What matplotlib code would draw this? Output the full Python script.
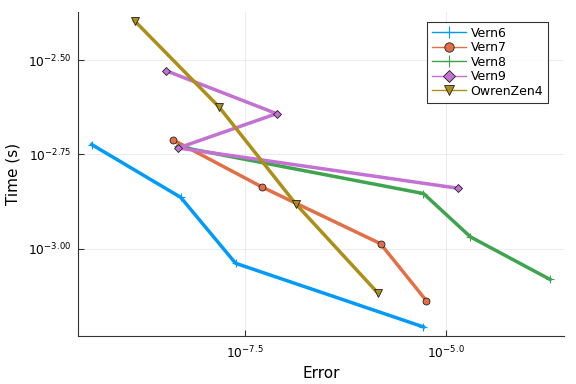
import matplotlib
matplotlib.use('Agg')
import matplotlib.pyplot as plt
from matplotlib.lines import Line2D
import numpy as np

# log10 values
vern6_err = [-9.396, -8.293, -7.612, -5.282]
vern6_time = [-2.724, -2.864, -3.039, -3.208]
vern7_err = [-8.392, -7.281, -5.815, -5.248]
vern7_time = [-2.711, -2.837, -2.987, -3.138]
vern8_err = [-8.330, -5.282, -4.700, -3.712]
vern8_time = [-2.729, -2.854, -2.969, -3.082]
vern9_err = [-8.475, -7.103, -8.322, -4.852]
vern9_time = [-2.528, -2.642, -2.733, -2.840]
owren_err = [-8.863, -7.818, -6.868, -5.843]
owren_time = [-2.396, -2.624, -2.881, -3.119]

names = ["Vern6", "Vern7", "Vern8", "Vern9", "OwrenZen4"]
colors = ["#009AFA", "#E36F47", "#3EA44E", "#C371D2", "#AC8E18"]
markers = ["+", "o", "+", "D", "v"]
msizes = [6, 5, 6, 4.2, 5.5]

series = [(vern6_err, vern6_time), (vern7_err, vern7_time), (vern8_err, vern8_time),
          (vern9_err, vern9_time), (owren_err, owren_time)]

fig = plt.figure(figsize=(5.76, 3.84), dpi=100)
ax = fig.add_axes([0.1354, 0.125, 0.979 - 0.1354, 0.969 - 0.125])

handles = []
for (e, t), name, c, m, ms in zip(series, names, colors, markers, msizes):
    x = 10 ** np.array(e)
    y = 10 ** np.array(t)
    ec = c if m == "+" else "#222222"
    ew = 0.8 if m == "+" else 0.6
    ax.plot(x, y, color=c, lw=2.5, marker=m, markersize=ms,
            markeredgecolor=ec, markeredgewidth=ew, zorder=3)
    handles.append(Line2D([0], [0], color=c, lw=1, marker=m, markersize=ms * 1.35,
                          markeredgecolor=ec, markeredgewidth=ew))

ax.set_xscale('log')
ax.set_yscale('log')
ax.set_xlim(10 ** -9.566, 10 ** -3.541)
ax.set_ylim(10 ** -3.232, 10 ** -2.372)

ax.xaxis.set_minor_locator(matplotlib.ticker.NullLocator())
ax.yaxis.set_minor_locator(matplotlib.ticker.NullLocator())
ax.set_xticks([10 ** -7.5, 10 ** -5.0])
ax.set_xticklabels([r"$10^{-7.5}$", r"$10^{-5.0}$"])
ax.set_yticks([10 ** -3.0, 10 ** -2.75, 10 ** -2.5])
ax.set_yticklabels([r"$10^{-3.00}$", r"$10^{-2.75}$", r"$10^{-2.50}$"])
ax.tick_params(direction='in', length=4, width=0.8, labelsize=8.8, color='#333333')
ax.tick_params(axis='x', pad=6)
ax.tick_params(axis='y', pad=5)

ax.grid(True, color='#000000', alpha=0.08, lw=0.7)
ax.spines['top'].set_visible(False)
ax.spines['right'].set_visible(False)
ax.spines['left'].set_color('#333333')
ax.spines['bottom'].set_color('#333333')

ax.set_xlabel("Error", fontsize=11)
ax.set_ylabel("Time (s)", fontsize=11, labelpad=5)

leg = ax.legend(handles, names, loc='upper right', bbox_to_anchor=(0.968, 0.97),
                fontsize=9, frameon=True, fancybox=False, handlelength=2.7,
                borderpad=0.4, labelspacing=0.12, handletextpad=0.4,
                borderaxespad=0.0)
leg.get_frame().set_edgecolor('black')
leg.get_frame().set_linewidth(0.8)

fig.savefig("out.png", dpi=100)
